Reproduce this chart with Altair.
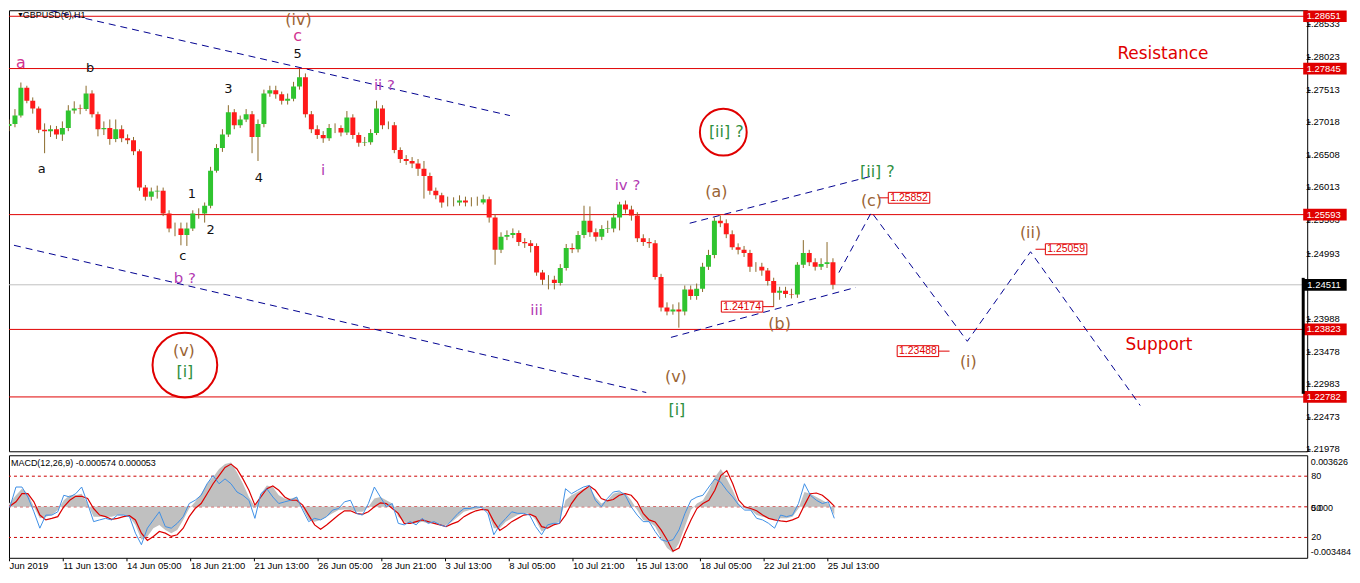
import altair as alt
import pandas as pd

# ---------------- data ----------------
first_open = 1.2696
closes = [1.2699,1.2712,1.2755,1.2735,1.2723,1.2690,1.2688,1.2691,1.2683,1.2693,
          1.2720,1.2723,1.2722,1.2746,1.2714,1.2691,1.2693,1.2676,1.2691,1.2677,
          1.2674,1.2657,1.2601,1.2587,1.2595,1.2596,1.2561,1.2538,1.2538,1.2528,
          1.2538,1.2561,1.2561,1.2573,1.2627,1.2662,1.2683,1.2717,1.2697,1.2706,
          1.2714,1.2679,1.2699,1.2746,1.2751,1.2745,1.2735,1.2738,1.2757,1.2771,
          1.2714,1.2691,1.2682,1.2677,1.2693,1.2693,1.2686,1.2709,1.2682,1.2670,
          1.2671,1.2685,1.2723,1.2697,1.2697,1.2659,1.2645,1.2642,1.2638,1.2630,
          1.2619,1.2596,1.2589,1.2578,1.2578,1.2578,1.2581,1.2578,1.2578,1.2578,
          1.2583,1.2555,1.2505,1.2525,1.2528,1.2531,1.2517,1.2515,1.2511,1.2470,
          1.2459,1.2459,1.2454,1.2477,1.2508,1.2506,1.2528,1.2550,1.2532,1.2525,
          1.2537,1.2538,1.2555,1.2575,1.2567,1.2558,1.2523,1.2517,1.2515,1.2463,
          1.2416,1.2410,1.2413,1.2410,1.2444,1.2434,1.2445,1.2479,1.2497,1.2550,
          1.2546,1.2529,1.2509,1.2505,1.2500,1.2479,1.2479,1.2473,1.2457,1.2439,
          1.2442,1.2437,1.2436,1.2482,1.2500,1.2486,1.2479,1.2483,1.2486,1.24511]
highs = [1.2706,1.2722,1.2763,1.2758,1.2740,1.2726,1.2700,1.2697,1.2696,1.2703,
         1.2728,1.2734,1.2729,1.2758,1.2751,1.2718,1.2703,1.2706,1.2706,1.2697,
         1.2683,1.2679,1.2660,1.2605,1.2601,1.2604,1.2601,1.2566,1.2547,1.2547,
         1.2547,1.2566,1.2569,1.2578,1.2633,1.2668,1.2691,1.2728,1.2722,1.2712,
         1.2722,1.2719,1.2706,1.2752,1.2758,1.2758,1.2749,1.2746,1.2764,1.2784,
         1.2777,1.2719,1.2697,1.2688,1.2699,1.2700,1.2697,1.2719,1.2714,1.2686,
         1.2679,1.2691,1.2735,1.2728,1.2703,1.2702,1.2663,1.2651,1.2648,1.2645,
         1.2642,1.2624,1.2601,1.2593,1.2587,1.2586,1.2589,1.2587,1.2586,1.2587,
         1.2590,1.2587,1.2560,1.2532,1.2535,1.2538,1.2535,1.2523,1.2520,1.2515,
         1.2474,1.2466,1.2465,1.2483,1.2514,1.2515,1.2534,1.2573,1.2572,1.2538,
         1.2543,1.2550,1.2561,1.2579,1.2581,1.2573,1.2563,1.2529,1.2523,1.2520,
         1.2468,1.2424,1.2421,1.2424,1.2450,1.2450,1.2453,1.2485,1.2505,1.2555,
         1.2558,1.2552,1.2535,1.2515,1.2511,1.2505,1.2486,1.2485,1.2477,1.2462,
         1.2448,1.2448,1.2445,1.2486,1.2520,1.2505,1.2492,1.2492,1.2517,1.2492]
lows = [1.2688,1.2694,1.2709,1.2731,1.2715,1.2685,1.2654,1.2679,1.2676,1.2673,
        1.2688,1.2715,1.2714,1.2719,1.2709,1.2680,1.2682,1.2667,1.2671,1.2671,
        1.2668,1.2651,1.2596,1.2581,1.2581,1.2584,1.2557,1.2532,1.2526,1.2512,
        1.2511,1.2534,1.2553,1.2547,1.2569,1.2624,1.2656,1.2679,1.2691,1.2693,
        1.2702,1.2654,1.2642,1.2694,1.2741,1.2738,1.2729,1.2729,1.2734,1.2752,
        1.2709,1.2685,1.2676,1.2670,1.2673,1.2685,1.2680,1.2682,1.2676,1.2664,
        1.2665,1.2667,1.2682,1.2691,1.2691,1.2654,1.2639,1.2636,1.2631,1.2619,
        1.2584,1.2590,1.2583,1.2570,1.2572,1.2572,1.2573,1.2572,1.2572,1.2573,
        1.2575,1.2547,1.2482,1.2500,1.2520,1.2523,1.2511,1.2508,1.2501,1.2465,
        1.2451,1.2444,1.2444,1.2450,1.2473,1.2500,1.2501,1.2523,1.2525,1.2518,
        1.2520,1.2531,1.2532,1.2535,1.2561,1.2550,1.2517,1.2511,1.2508,1.2459,
        1.2410,1.2404,1.2405,1.2385,1.2404,1.2428,1.2428,1.2440,1.2474,1.2492,
        1.2540,1.2523,1.2505,1.2498,1.2494,1.2471,1.2471,1.2465,1.2450,1.2417,
        1.2428,1.2431,1.2430,1.2431,1.2477,1.2480,1.2473,1.2474,1.2477,1.2444]
hours_per_candle = 6

# MACD panel values, in units of 0.00001
macd_hist_e5 = [23,28,81,127,92,0,-81,-69,-58,-23,
                46,81,81,92,23,-69,-69,-69,-69,-58,
                -58,-69,-127,-231,-208,-150,-127,-162,-185,-162,
                -92,-12,35,92,162,208,266,300,312,243,
                162,69,0,92,150,139,81,58,58,69,
                -12,-92,-104,-92,-69,-46,-23,-18,-23,-35,
                -35,0,58,69,46,23,-69,-104,-116,-116,
                -104,-116,-116,-127,-127,-104,-69,-35,-23,-18,
                -5,-35,-150,-150,-104,-81,-58,-46,-46,-92,
                -173,-150,-120,-104,46,81,104,127,139,69,
                23,46,92,104,97,46,-23,-92,-104,-139,
                -219,-289,-323,-254,-139,-23,23,46,116,208,
                266,196,116,23,-12,-23,-58,-69,-81,-92,
                -81,-81,-69,-12,104,92,69,46,23,-57]
macd_signal_e5 = [12,5,35,92,92,35,-58,-92,-81,-69,
                  0,46,74,74,58,-12,-58,-69,-88,-81,
                  -69,-62,-92,-185,-236,-208,-173,-185,-208,-196,
                  -150,-69,-12,23,92,162,219,277,300,266,
                  196,116,12,69,127,146,116,69,46,46,
                  12,-58,-127,-157,-127,-92,-58,-28,-28,-46,
                  -53,-35,0,28,23,-12,-46,-116,-116,-104,
                  -92,-104,-116,-127,-139,-120,-104,-69,-46,-28,
                  -18,-23,-104,-166,-139,-104,-81,-58,-51,-69,
                  -139,-150,-127,-116,-58,23,81,116,146,116,
                  58,42,51,81,92,81,35,-46,-92,-106,
                  -162,-231,-312,-289,-185,-92,-12,23,46,116,
                  219,254,162,46,0,-12,-28,-58,-81,-92,
                  -99,-104,-92,-74,12,92,97,81,46,5]
macd_fast_e5 = [-12,0,139,139,69,-35,-150,-58,-58,-35,
                81,69,92,139,23,-104,-92,-81,-92,-58,
                -58,-69,-185,-266,-150,-92,-35,-139,-150,-116,
                -69,23,46,81,162,219,162,196,162,104,
                81,46,-81,92,127,69,23,35,46,69,
                -23,-104,-81,-92,-69,-23,-12,35,46,-46,
                -58,23,139,69,0,23,-116,-127,-104,-127,
                -81,-116,-104,-127,-139,-92,-46,-12,-12,0,
                -5,-46,-196,-127,-81,-35,-46,-46,-58,-139,
                -196,-127,-116,-116,127,92,116,139,150,46,
                0,58,104,111,81,0,-58,-104,-104,-173,
                -231,-243,-231,-162,-46,46,69,81,139,196,
                173,116,69,12,-23,-23,-81,-92,-116,-150,
                -58,-69,-58,23,162,81,46,23,35,-81]
macd_levels_e5 = [215, 0, -215]

levels = [1.28651, 1.27845, 1.25593, 1.23823, 1.22782]
last_price = 1.24511
price_ticks = [1.28533, 1.28023, 1.27513, 1.27018, 1.26508, 1.26013, 1.25503,
               1.24993, 1.23988, 1.23478, 1.22983, 1.22473, 1.21978]
time_tick_pos = [8, 62, 126, 190, 254, 318, 382, 446, 510, 574, 638, 702, 766, 830]
time_tick_lab = ["Jun 2019", "11 Jun 13:00", "14 Jun 05:00", "18 Jun 21:00", "21 Jun 13:00",
                 "26 Jun 05:00", "28 Jun 21:00", "3 Jul 13:00", "8 Jul 05:00", "10 Jul 21:00",
                 "15 Jul 13:00", "18 Jul 05:00", "22 Jul 21:00", "25 Jul 13:00"]

# trend / projection lines (bar index, price)
line_id = ["A", "A", "B", "B", "C", "C", "D", "D", "P", "P", "P", "P", "P"]
line_x = [45, 510, 8, 648, 673, 860, 692, 877, 843, 876, 973, 1037, 1148]
line_p = [1.2874, 1.2712, 1.2512, 1.2285, 1.2370, 1.2447, 1.2546, 1.2619,
          1.2470, 1.2563, 1.2364, 1.2502, 1.2265]

# wave labels
BR, MG, PU, GR, BK, RD = "#9a6434", "#d1338f", "#b23ab2", "#2f8f3f", "#111111", "#e00000"
lab_text = ["a", "b", "a", "3", "5", "c", "(iv)", "ii ?", "i", "4", "1", "2", "c", "b ?",
            "(v)", "[i]", "iii", "iv ?", "[ii] ?", "(a)", "(b)", "(v)", "[i]", "[ii] ?",
            "(c)", "(ii)", "(i)", "Resistance", "Support"]
lab_x = [15, 85, 36, 225, 295, 295, 296, 383, 321, 256, 188, 207, 179, 181,
         180, 181, 537, 629, 729, 719, 783, 678, 679, 882, 876, 1037, 974, 1171, 1167]
lab_p = [1.27934, 1.27857, 1.26299, 1.27537, 1.28071, 1.28347, 1.28590, 1.27598, 1.26284,
         1.26161, 1.25917, 1.25352, 1.24954, 1.24618, 1.23487, 1.23167, 1.24129, 1.26054,
         1.26864, 1.25948, 1.23900, 1.23090, 1.22586, 1.26253, 1.25810, 1.25306, 1.23319,
         1.28071, 1.23579]
lab_col = [MG, BK, BK, BK, BK, MG, BR, PU, PU, BK, BK, BK, BK, PU,
           BR, GR, PU, PU, GR, BR, BR, BR, GR, GR, BR, BR, BR, RD, RD]
lab_fs = [16, 13, 13, 13, 13, 16, 16, 15, 15, 13, 13, 13, 13, 15,
          16, 16, 15, 15, 16, 16, 16, 16, 16, 16, 16, 16, 16, 17, 17]

# price boxes
box_val = [1.24174, 1.25852, 1.25059, 1.23488]
box_xc = [745, 914, 1073, 923]
conn_x1 = [766, 883, 1042, 944]
conn_x2 = [777, 893, 1052, 955]

# red circles
circ_x = [181, 726]
circ_p = [1.23273, 1.26864]
circ_size = [4225, 2209]

# ---------------- frames ----------------
n = len(closes)
opens = [first_open] + closes[:-1]
xs_c = [hours_per_candle * i + hours_per_candle / 2 for i in range(n)]
cdf = pd.DataFrame({"x": xs_c, "open": opens, "high": highs, "low": lows, "close": closes})
cdf["col"] = ["#2fc42f" if c >= o else "#ff1a1a" for o, c in zip(opens, closes)]

mdf = pd.DataFrame({"x": xs_c, "hist": macd_hist_e5, "sig": macd_signal_e5, "fast": macd_fast_e5})

P_TOP, P_BOT = 1.28744, 1.21944
xs = alt.Scale(domain=[8, 1312], nice=False, zero=False)
ys = alt.Scale(domain=[P_BOT, P_TOP], nice=False, zero=False)
# axis draws the ticks; the price labels are a text layer on the same scale
yaxis = alt.Axis(orient="right", values=price_ticks, labels=False, title=None, grid=False,
                 domain=False, tickSize=3, tickColor="black")
X = lambda f="x": alt.X(f + ":Q", scale=xs, axis=None)
Y = lambda f: alt.Y(f + ":Q", scale=ys, axis=yaxis)

lev_df = pd.DataFrame({"p": levels})
hlines = alt.Chart(lev_df).mark_rule(color="#e00000", strokeWidth=1).encode(y=Y("p"))
grey = alt.Chart(pd.DataFrame({"p": [last_price]})).mark_rule(color="#c0c0c0").encode(y=Y("p"))

ldf = pd.DataFrame({"id": line_id, "x": line_x, "p": line_p, "k": range(len(line_x))})
tlines = alt.Chart(ldf).mark_line(color="#000090", strokeWidth=1, strokeDash=[7, 5], clip=True).encode(
    x=X(), y=Y("p"), detail="id:N", order="k:Q")

wick = alt.Chart(cdf).mark_rule(strokeWidth=1, clip=True, color="#8a6a2a").encode(
    x=X(), y=Y("low"), y2="high:Q")
body = alt.Chart(cdf).mark_bar(size=5, clip=True).encode(
    x=X(), y=Y("open"), y2="close:Q", color=alt.Color("col:N", scale=None))

tdf = pd.DataFrame({"x": lab_x, "p": lab_p, "t": lab_text, "col": lab_col, "fs": lab_fs})
texts = alt.Chart(tdf).mark_text(font="DejaVu Sans", baseline="middle", align="center").encode(
    x=X(), y=Y("p"), text="t:N", color=alt.Color("col:N", scale=None), size=alt.Size("fs:Q", scale=None))

bdf = pd.DataFrame({"xc": box_xc, "p": box_val})
bdf["x1"] = bdf["xc"] - 21
bdf["x2"] = bdf["xc"] + 21
bdf["p1"] = bdf["p"] - 0.00084
bdf["p2"] = bdf["p"] + 0.00084
bdf["t"] = [f"{v:.5f}" for v in box_val]
bdf["c1"] = conn_x1
bdf["c2"] = conn_x2
boxes = alt.Chart(bdf).mark_rect(fill="white", stroke="#e00000", strokeWidth=1).encode(
    x=X("x1"), x2="x2:Q", y=Y("p1"), y2="p2:Q")
box_t = alt.Chart(bdf).mark_text(color="#e00000", font="Liberation Sans", fontSize=10.5).encode(
    x=X("xc"), y=Y("p"), text="t:N")
conns = alt.Chart(bdf).mark_rule(color="#e00000").encode(x=X("c1"), x2="c2:Q", y=Y("p"))

cirdf = pd.DataFrame({"x": circ_x, "p": circ_p, "s": circ_size})
circles = alt.Chart(cirdf).mark_point(shape="circle", filled=False, color="#e00000", strokeWidth=2, opacity=1).encode(
    x=X(), y=Y("p"), size=alt.Size("s:Q", scale=None))

# price scale labels (right side), anchored at their right end
pl_df = pd.DataFrame({"p": price_ticks, "x": 1350})
pl_df["t"] = [f"{v:.5f}" for v in price_ticks]
plabels = alt.Chart(pl_df).mark_text(align="right", baseline="middle", color="black",
                                     font="Liberation Sans", fontSize=9.5).encode(
    x=X(), y=Y("p"), text="t:N")

# price tags on the right axis
tag_df = pd.DataFrame({"p": levels + [last_price], "col": ["#e00000"] * len(levels) + ["#000000"]})
tag_df["p1"] = tag_df["p"] - 0.00090
tag_df["p2"] = tag_df["p"] + 0.00090
tag_df["x1"] = 1313
tag_df["x2"] = 1357
tag_df["xt"] = 1351
tag_df["t"] = [f"{v:.5f}" for v in tag_df["p"]]
tags = alt.Chart(tag_df).mark_rect().encode(
    x=X("x1"), x2="x2:Q", y=Y("p1"), y2="p2:Q", color=alt.Color("col:N", scale=None))
tag_t = alt.Chart(tag_df).mark_text(color="white", align="right", font="Liberation Sans", fontSize=9.5).encode(
    x=X("xt"), y=Y("p"), text="t:N")
bidbar = alt.Chart(pd.DataFrame({"x": [1313], "p1": [1.22830], "p2": [1.24618]})).mark_rule(
    color="black", strokeWidth=3).encode(x=X(), y=Y("p1"), y2="p2:Q")

title_df = pd.DataFrame({"x": [11, 17], "p": [1.28735, 1.28735], "t": ["\u25bc", "GBPUSD(\u20ac),H1"], "fs": [7, 9]})
title = alt.Chart(title_df).mark_text(align="left", baseline="top", color="black", font="Liberation Sans").encode(
    x=X(), y=Y("p"), text="t:N", size=alt.Size("fs:Q", scale=None))

main = alt.layer(hlines, grey, tlines, wick, body, boxes, conns, box_t, circles, texts,
                 plabels, tags, tag_t, bidbar, title).properties(width=1304, height=443)

# ---------------- MACD panel ----------------
ms = alt.Scale(domain=[-358, 362], nice=False, zero=False)
label_expr = " : ".join(f"datum.value == {p} ? '{l}'" for p, l in zip(time_tick_pos, time_tick_lab)) + " : ''"
xaxis = alt.Axis(values=time_tick_pos, labelExpr=label_expr, labelAlign="left", labelFontSize=9.5,
                 labelFont="Liberation Sans", labelColor="black", tickSize=3, tickColor="black",
                 labelPadding=0, domain=False, grid=False, title=None, labelFlush=False,
                 labelOverlap=False, labelBound=False)
MX = lambda f="x": alt.X(f + ":Q", scale=xs, axis=xaxis)
MY = lambda f: alt.Y(f + ":Q", scale=ms, axis=None)

mlev = alt.Chart(pd.DataFrame({"v": macd_levels_e5})).mark_rule(color="#cc0000", strokeDash=[3, 3]).encode(y=MY("v"))
hist = alt.Chart(mdf).mark_area(color="#c0c0c0", opacity=1, clip=True).encode(x=MX(), y=MY("hist"), y2=alt.datum(0))
sig = alt.Chart(mdf).mark_line(color="#dd0000", strokeWidth=1.2, clip=True).encode(x=MX(), y=MY("sig"))
fast = alt.Chart(mdf).mark_line(color="#3d8fe6", strokeWidth=1, clip=True).encode(x=MX(), y=MY("fast"))

mtitle = alt.Chart(pd.DataFrame({"x": [10], "v": [307], "t": ["MACD(12,26,9) -0.000574 0.000053"]})).mark_text(
    align="left", baseline="middle", color="black", font="Liberation Sans", fontSize=9).encode(
    x=MX(), y=MY("v"), text="t:N")
ml_df = pd.DataFrame({"x": [1353, 1326, 1326, 1338, 1326, 1356],
                      "v": [314, 217, -5, -5, -213, -317],
                      "t": ["0.003626", "80", "50", "0.000", "20", "-0.003484"]})
mlabels = alt.Chart(ml_df).mark_text(align="right", baseline="middle", color="black",
                                     font="Liberation Sans", fontSize=9).encode(x=MX(), y=MY("v"), text="t:N")

macd = alt.layer(mlev, hist, sig, fast, mtitle, mlabels).properties(width=1304, height=103)

chart = alt.vconcat(main, macd, spacing=4, bounds="flush").properties(
    padding=0, background="white").configure_view(stroke="black", strokeWidth=1)

chart.save("out.html", embed_options={"renderer": "svg", "actions": False})
